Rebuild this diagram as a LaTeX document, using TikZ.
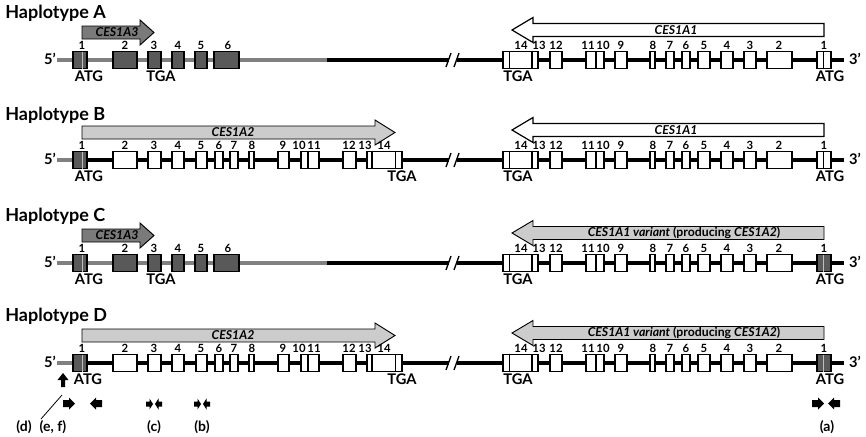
\documentclass[tikz,border=0pt]{standalone}
\usepackage{fontspec}
\setmainfont{Lato}
\tikzset{
  gline/.style={line width=2.8pt, black},
  glgrey/.style={line width=2.8pt, black!50},
  exon/.style={draw=black, line width=0.9pt, fill=white},
  dexon/.style={draw=black, line width=0.9pt, fill=black!65},
  innerdark/.style={line width=0.7pt, black},
  innerlight/.style={line width=0.7pt, black!25},
  thickbd/.style={line width=1.8pt, black},
  brk/.style={line width=1pt, black},
  num/.style={font=\bfseries\fontsize{8.5}{9}\selectfont, inner sep=0pt},
  cod/.style={font=\bfseries\fontsize{11}{12}\selectfont, inner sep=0pt},
  prime/.style={font=\bfseries\fontsize{11}{12}\selectfont, inner sep=0pt},
  hap/.style={font=\bfseries\fontsize{13.5}{15}\selectfont, inner sep=0pt, anchor=base west},
  gname/.style={font=\bfseries\fontsize{9.2}{10}\selectfont, inner sep=0pt},
  darkarrow/.style={draw=black, line width=0.7pt, fill=black!52},
  lightarrow/.style={draw=black, line width=0.7pt, fill=black!20},
  whitearrow/.style={draw=black, line width=0.9pt, fill=white},
  plabel/.style={font=\bfseries\fontsize{10.5}{11}\selectfont, inner sep=0pt}
}
% CES1A3 gene, left half
\newcommand\cesthree[2]{%
  \draw[glgrey] (57,#1) -- (327,#1);
  \draw[gline] (327,#1) -- (449,#1);
  \foreach \a/\b/\n/\lx in {73/87/1/82,113/137/2/125,148/161/3/154,172/184/4/178,195/207/5/201,214/239/6/228}{
    \draw[dexon] (\a,#1-8.5) rectangle (\b,#1+8.5);
    \node[num] (#2l\n) at (\lx,#1-14.5) {\n};
  }
  \draw[innerlight] (82,#1-8.5) -- (82,#1+8.5);
  \node[cod] (#2atg) at (89,#1+16) {ATG};
  \node[cod] (#2tgal) at (161,#1+16) {TGA};
  \node[prime] (#2five) at (50,#1-1) {5’};
}
% CES1A2 gene, left half
\newcommand\cestwo[3]{%
  \draw[glgrey] (57,#1) -- (73,#1);
  \draw[gline] (87,#1) -- (449,#1);
  \draw[dexon] (73,#1-8.5) rectangle (87,#1+8.5);
  \draw[innerlight] (82,#1-8.5) -- (82,#1+8.5);
  \node[num] (#2l1) at (82,#1-14.5) {1};
  \foreach \a/\b/\n/\lx in {113/137/2/125,148/161/3/154,172/184/4/178,196/207/5/201,215/223/6/219,230/238/7/234,249/254/8/252,278/289/9/283,301/308/10/299,308/319/11/314,343/356/12/349,367/372/13/365,372/402/14/384}{
    \draw[exon] (\a,#1-8.5) rectangle (\b,#1+8.5);
    \node[num] (#2l\n) at (\lx,#1-14.5) {\n};
  }
  \draw[thickbd] (372,#1-8.5) -- (372,#1+8.5);
  \draw[innerdark] (395,#1-8.5) -- (395,#1+8.5);
  \node[cod] (#2atg) at (#3,#1+16) {ATG};
  \node[cod] (#2tgal) at (402,#1+16) {TGA};
  \node[prime] (#2five) at (50,#1-1) {5’};
}
% CES1A1 gene, right half
\newcommand\cesone[3]{%
  \draw[gline] (457,#1) -- (844,#1);
  \foreach \a/\b/\n/\lx in {503/532/14/521,532/538/13/539,550/562/12/556,586/596/11/588,596/604/10/603,615/627/9/621,650/655/8/653,666/674/7/670,682/690/6/686,698/710/5/704,721/733/4/727,744/756/3/750,767/792/2/779}{
    \draw[exon] (\a,#1-8.5) rectangle (\b,#1+8.5);
    \node[num] (#2r\n) at (\lx,#1-14.5) {\n};
  }
  \draw[thickbd] (532,#1-8.5) -- (532,#1+8.5);
  \draw[innerdark] (509,#1-8.5) -- (509,#1+8.5);
  \draw[#3] (817,#1-8.5) rectangle (831,#1+8.5);
  \node[num] (#2r1) at (824,#1-14.5) {1};
  \node[cod] (#2tgar) at (518,#1+16) {TGA};
  \node[cod] (#2atgr) at (830,#1+16) {ATG};
  \node[prime] (#2three) at (855,#1-1) {3’};
}
\newcommand\gbreak[1]{%
  \draw[brk] (446,#1+7) -- (451,#1-7);
  \draw[brk] (454,#1+7) -- (459,#1-7);
}
% block arrow: y centre, x tail, x tip, x head base, style
\newcommand\garrow[5]{%
  \draw[#5] (#2,#1-6.5) -- (#4,#1-6.5) -- (#4,#1-12.5) -- (#3,#1) -- (#4,#1+12.5) -- (#4,#1+6.5) -- (#2,#1+6.5) -- cycle;
}
% primer arrow: x tail, x tip, y, x head base, half body, half head
\newcommand\primer[6]{%
  \fill[black] (#1,#3-#5) -- (#4,#3-#5) -- (#4,#3-#6) -- (#2,#3) -- (#4,#3+#6) -- (#4,#3+#5) -- (#1,#3+#5) -- cycle;
}
\begin{document}
\begin{tikzpicture}[x=0.75pt,y=-0.75pt]
\useasboundingbox (0,0) rectangle (866,436);
\fill[white] (0,0) rectangle (866,436);

% ---------- Haplotype A ----------
\node[hap] (hA) at (5,18) {Haplotype A};
\garrow{32.5}{82}{154}{140}{darkarrow}
\node[gname] (nA3) at (117,32.5) {\itshape CES1A3};
\garrow{30}{824}{512}{533}{whitearrow}
\node[gname] (nA1) at (676,30) {\itshape CES1A1};
\cesthree{60}{a}
\cesone{60}{a}{exon}
\draw[innerdark] (823,51.5) -- (823,68.5);
\gbreak{60}

% ---------- Haplotype B ----------
\node[hap] (hB) at (5,120) {Haplotype B};
\garrow{132.5}{82}{395}{375}{lightarrow}
\node[gname] (nB2) at (233,132.5) {\itshape CES1A2};
\garrow{130}{824}{512}{533}{whitearrow}
\node[gname] (nB1) at (676,130) {\itshape CES1A1};
\cestwo{160}{b}{89}
\cesone{160}{b}{exon}
\draw[innerdark] (823,151.5) -- (823,168.5);
\gbreak{160}

% ---------- Haplotype C ----------
\node[hap] (hC) at (5,221) {Haplotype C};
\garrow{235.5}{82}{154}{140}{darkarrow}
\node[gname] (nC3) at (117,235.5) {\itshape CES1A3};
\garrow{233}{824}{512}{533}{lightarrow}
\node[gname] (nC1) at (684,233) {\itshape CES1A1 variant\upshape\ (producing \itshape CES1A2\upshape )};
\cesthree{263}{c}
\draw[glgrey] (792,263) -- (817,263);
\cesone{263}{c}{dexon}
\draw[innerlight] (823,254.5) -- (823,271.5);
\gbreak{263}

% ---------- Haplotype D ----------
\node[hap] (hD) at (5,321) {Haplotype D};
\garrow{335.5}{82}{395}{375}{lightarrow}
\node[gname] (nD2) at (233,335.5) {\itshape CES1A2};
\garrow{333}{824}{512}{533}{lightarrow}
\node[gname] (nD1) at (684,333) {\itshape CES1A1 variant\upshape\ (producing \itshape CES1A2\upshape )};
\cestwo{363}{d}{88}
\draw[glgrey] (792,363) -- (817,363);
\cesone{363}{d}{dexon}
\draw[innerlight] (823,354.5) -- (823,371.5);
\gbreak{363}

% ---------- primers ----------
\fill[black] (61,387) -- (61,380) -- (57.5,380) -- (63,373) -- (68.5,380) -- (65,380) -- (65,387) -- cycle;
\coordinate (lnA) at (62,395);
\coordinate (lnB) at (41,419);
\draw[line width=0.6pt] (lnA) -- (lnB);
\primer{63}{75}{403.5}{69}{3.5}{6}
\primer{102}{90}{403.5}{96}{3.5}{6}
\primer{146}{153}{404}{149.5}{2.5}{5.5}
\primer{162}{155}{404}{158.5}{2.5}{5.5}
\primer{194}{201}{404}{197.5}{2.5}{5.5}
\primer{210}{203}{404}{206.5}{2.5}{5.5}
\primer{812}{824}{403.5}{818}{3.5}{6}
\primer{840}{828}{403.5}{834}{3.5}{6}
\node[plabel] (pd) at (24,427) {(d)};
\node[plabel] (pef) at (53,427) {(e, f)};
\node[plabel] (pc) at (154,427) {(c)};
\node[plabel] (pb) at (202,427) {(b)};
\node[plabel] (pa) at (827,427) {(a)};
\end{tikzpicture}
\end{document}
